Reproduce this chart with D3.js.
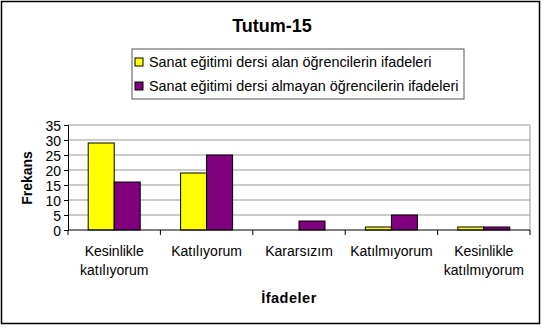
<!DOCTYPE html>
<html>
<head>
<meta charset="utf-8">
<script src="https://d3js.org/d3.v7.min.js"></script>
<style>
  body { margin:0; background:#fff; }
  text { font-family:"Liberation Sans", Arial, sans-serif; }
</style>
</head>
<body>
<div id="chart"></div>
<script>
// data
var categories = ["Kesinlikle katılıyorum", "Katılıyorum", "Kararsızım", "Katılmıyorum", "Kesinlikle katılmıyorum"];
var alan = [29, 19, 0, 1, 1];
var almayan = [16, 25, 3, 5, 1];
var seriesNames = ["Sanat eğitimi dersi alan öğrencilerin ifadeleri", "Sanat eğitimi dersi almayan öğrencilerin ifadeleri"];
var colors = ["#ffff00", "#800080"];
var yTicks = [0, 5, 10, 15, 20, 25, 30, 35];

var W = 542, H = 332;
var margin = {top: 125, right: 12, bottom: 102, left: 68};
var width = W - margin.left - margin.right,
    height = H - margin.top - margin.bottom;

var svg = d3.select("#chart").append("svg")
  .attr("width", W).attr("height", H);

// outer frame
svg.append("rect")
  .attr("x", 1.5).attr("y", 1.5).attr("width", W - 4).attr("height", H - 10)
  .attr("fill", "#fff").attr("stroke", "#000").attr("stroke-width", 1.5);

var g = svg.append("g")
  .attr("transform", "translate(" + margin.left + "," + margin.top + ")");

var x = d3.scaleBand().domain(categories).range([0, width]);
var y = d3.scaleLinear().domain([0, 35]).range([height, 0]);

// grid lines
g.selectAll(".grid").data(yTicks.slice(1)).enter().append("line")
  .attr("x1", 0).attr("x2", width)
  .attr("y1", function(d){ return y(d); }).attr("y2", function(d){ return y(d); })
  .attr("stroke", "#999").attr("stroke-width", 1);
g.append("line").attr("x1", width).attr("x2", width).attr("y1", 0).attr("y2", height)
  .attr("stroke", "#999");

// bars
var bw = 26;
var data = categories.map(function(c, i){ return {cat: c, vals: [alan[i], almayan[i]]}; });
var groups = g.selectAll(".grp").data(data).enter().append("g");
groups.selectAll("rect").data(function(d){ return d.vals.map(function(v, j){ return {cat: d.cat, v: v, j: j}; }); })
  .enter().append("rect")
  .attr("x", function(d){ return x(d.cat) + x.bandwidth() / 2 - bw + d.j * bw; })
  .attr("y", function(d){ return y(d.v); })
  .attr("width", bw)
  .attr("height", function(d){ return height - y(d.v); })
  .attr("fill", function(d){ return colors[d.j]; })
  .attr("stroke", "#000").attr("stroke-width", 1)
  .style("display", function(d){ return d.v === 0 ? "none" : null; });

// y axis
var yAxis = g.append("g")
  .call(d3.axisLeft(y).tickValues(yTicks).tickSize(4).tickPadding(3));
yAxis.selectAll("text").style("font-size", "14px").attr("fill", "#000").attr("dy", "0.36em");
yAxis.select(".domain").attr("stroke", "#000");

// x axis with ticks at category borders
var xAxis = g.append("g").attr("transform", "translate(0," + height + ")");
xAxis.append("line").attr("x1", 0).attr("x2", width).attr("stroke", "#000");
xAxis.selectAll(".tk").data(d3.range(categories.length + 1)).enter().append("line")
  .attr("x1", function(i){ return i * x.step(); }).attr("x2", function(i){ return i * x.step(); })
  .attr("y1", 0).attr("y2", 5).attr("stroke", "#000");
xAxis.selectAll(".lbl").data(categories).enter().append("text")
  .attr("x", function(d){ return x(d) + x.bandwidth() / 2; })
  .attr("y", 26)
  .attr("text-anchor", "middle")
  .style("font-size", "14px")
  .each(function(d){
    var words = d.split(" ");
    var t = d3.select(this);
    words.forEach(function(w, k){
      t.append("tspan").attr("x", x(d) + x.bandwidth() / 2).attr("dy", k ? 19 : 0).text(w);
    });
  });

// axis titles
svg.append("text").attr("x", margin.left + width / 2 - 10).attr("y", 303)
  .attr("text-anchor", "middle").style("font-size", "14.5px").style("font-weight", "bold")
  .style("letter-spacing", "0.5px")
  .text("İfadeler");
svg.append("text").attr("transform", "translate(32,178) rotate(-90)")
  .attr("text-anchor", "middle").style("font-size", "14px").style("font-weight", "bold")
  .text("Frekans");

// title
svg.append("text").attr("x", 272).attr("y", 32)
  .attr("text-anchor", "middle").style("font-size", "18px").style("font-weight", "bold")
  .text("Tutum-15");

// legend
var lg = svg.append("g").attr("transform", "translate(132,49)");
lg.append("rect").attr("width", 332).attr("height", 50)
  .attr("fill", "#fff").attr("stroke", "#555");
seriesNames.forEach(function(s, i){
  lg.append("rect").attr("x", 3).attr("y", 9 + i * 24).attr("width", 8).attr("height", 8)
    .attr("fill", colors[i]).attr("stroke", "#000");
  lg.append("text").attr("x", 17).attr("y", 18 + i * 24)
    .style("font-size", "14.4px").text(s);
});
</script>
</body>
</html>
